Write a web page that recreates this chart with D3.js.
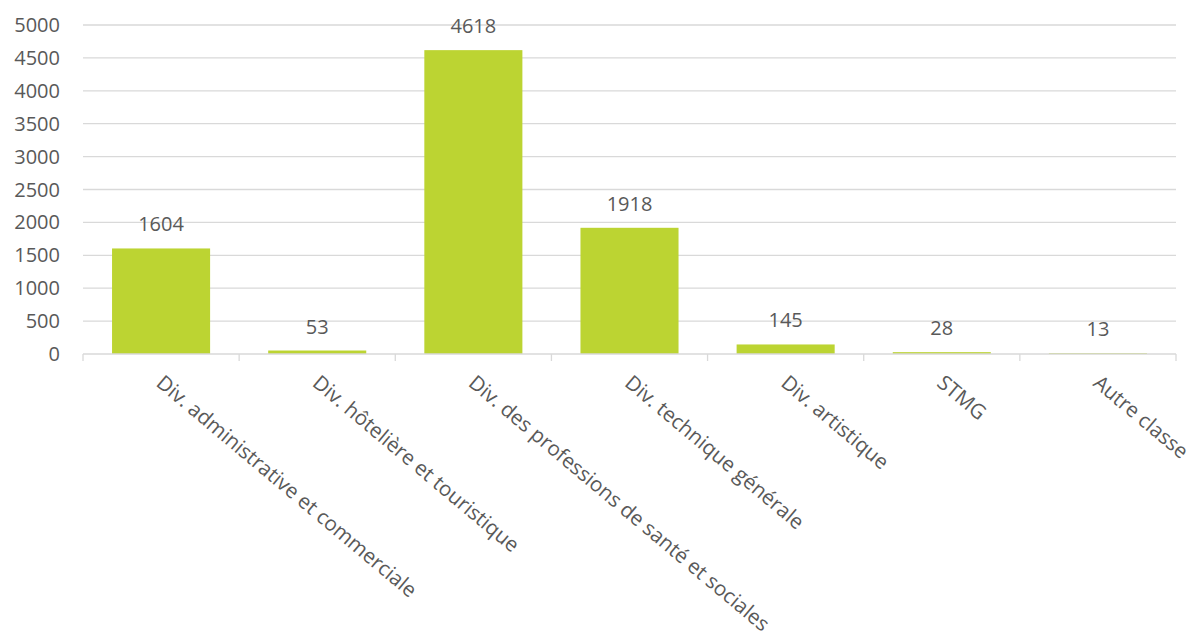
<!DOCTYPE html>
<html lang="fr">
<head>
<meta charset="UTF-8">
<title>Chart</title>
<style>
  body { margin: 0; background: #fff; }
  text { font-family: "Open Sans", sans-serif; fill: #595959; }
</style>
</head>
<body>
<script src="https://cdnjs.cloudflare.com/ajax/libs/d3/7.8.5/d3.min.js"></script>
<script>
// data
const categories = [
  'Div. administrative et commerciale',
  'Div. hôtelière et touristique',
  'Div. des professions de santé et sociales',
  'Div. technique générale',
  'Div. artistique',
  'STMG',
  'Autre classe'
];
const values = [1604, 53, 4618, 1918, 145, 28, 13];
const yTicks = [0, 500, 1000, 1500, 2000, 2500, 3000, 3500, 4000, 4500, 5000];

const width = 1192, height = 642;
const plot = {left: 83, right: 1176, top: 25, bottom: 354};

const svg = d3.select('body').append('svg')
    .attr('width', width)
    .attr('height', height);

const x = d3.scaleBand()
    .domain(categories)
    .range([plot.left, plot.right])
    .paddingInner(0.372)
    .paddingOuter(0.186);

const y = d3.scaleLinear()
    .domain([0, 5000])
    .range([plot.bottom, plot.top]);

// gridlines
svg.append('g')
    .selectAll('line')
    .data(yTicks.filter(d => d > 0))
    .join('line')
    .attr('x1', plot.left).attr('x2', plot.right)
    .attr('y1', d => y(d)).attr('y2', d => y(d))
    .attr('stroke', '#d9d9d9')
    .attr('stroke-width', 1.3);

// y labels
svg.append('g')
    .selectAll('text')
    .data(yTicks)
    .join('text')
    .attr('x', 60)
    .attr('y', d => y(d))
    .attr('dy', '0.35em')
    .attr('text-anchor', 'end')
    .style('font-size', '20px')
    .text(d => d);

// bars
svg.append('g')
    .selectAll('rect')
    .data(values)
    .join('rect')
    .attr('x', (d, i) => x(categories[i]))
    .attr('width', x.bandwidth())
    .attr('y', d => y(d))
    .attr('height', d => y(0) - y(d))
    .attr('fill', '#bcd432');

// x axis line + ticks
const step = x.step();
const axis = svg.append('g');
axis.append('line')
    .attr('x1', plot.left).attr('x2', plot.right)
    .attr('y1', y(0)).attr('y2', y(0))
    .attr('stroke', '#d9d9d9')
    .attr('stroke-width', 1.3);
axis.selectAll('.tick')
    .data(d3.range(categories.length + 1))
    .join('line')
    .attr('class', 'tick')
    .attr('x1', i => plot.left + i * step).attr('x2', i => plot.left + i * step)
    .attr('y1', y(0)).attr('y2', y(0) + 7)
    .attr('stroke', '#d9d9d9')
    .attr('stroke-width', 1.3);

// value labels
svg.append('g')
    .selectAll('text')
    .data(values)
    .join('text')
    .attr('x', (d, i) => x(categories[i]) + x.bandwidth() / 2)
    .attr('y', d => y(d) - 17)
    .attr('text-anchor', 'middle')
    .style('font-size', '20px')
    .text(d => d);

// category labels, rotated
svg.append('g')
    .selectAll('text')
    .data(categories)
    .join('text')
    .attr('transform', d => `translate(${x(d) + x.bandwidth() / 2 - 6}, ${y(0) + 31}) rotate(40)`)
    .attr('text-anchor', 'start')
    .style('font-size', '20.6px')
    .text(d => d);
</script>
</body>
</html>
